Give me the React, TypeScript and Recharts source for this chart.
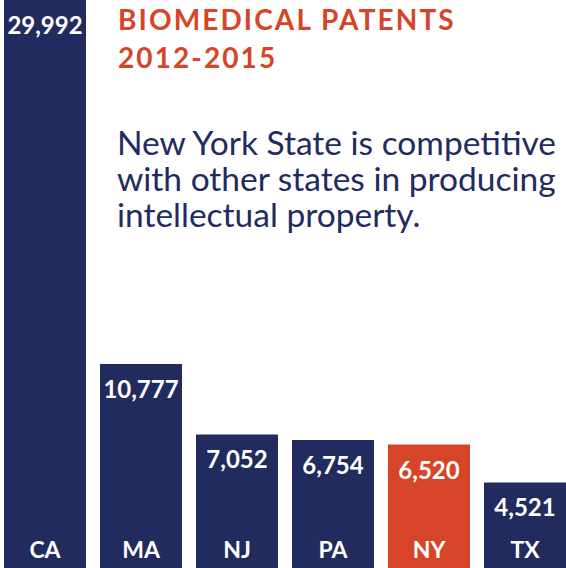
import React from 'react';
import { BarChart, Bar, XAxis, YAxis, Cell, LabelList } from 'recharts';

const states = ['CA', 'MA', 'NJ', 'PA', 'NY', 'TX'];
const patents = [29992, 10777, 7052, 6754, 6520, 4521];
const highlight = ['NY'];

const titleLines = ['BIOMEDICAL PATENTS', '2012-2015'];
const subtitleLines = [
  'New York State is competitive',
  'with other states in producing',
  'intellectual property.',
];

const NAVY = '#222B5E';
const ORANGE = '#D64527';

const data = states.map((s, i) => ({ state: s, value: patents[i] }));

const ValueLabel = (props: any) => {
  const { x, y, width, value } = props;
  return (
    <text
      x={x + width / 2}
      y={y + 34}
      textAnchor="middle"
      fill="#fff"
      fontFamily="Lato"
      fontWeight={700}
      fontSize={24}
    >
      {Number(value).toLocaleString('en-US')}
    </text>
  );
};

const StateLabel = (props: any) => {
  const { x, y, width, height, value } = props;
  return (
    <text
      x={x + width / 2}
      y={y + height - 10}
      textAnchor="middle"
      fill="#fff"
      fontFamily="Lato"
      fontWeight={700}
      fontSize={23}
    >
      {value}
    </text>
  );
};

export default function App() {
  return (
    <div
      style={{
        position: 'absolute',
        left: 0,
        top: 0,
        width: 566,
        height: 568,
        overflow: 'hidden',
        background: '#fff',
      }}
    >
      <div style={{ position: 'absolute', left: -3, top: 0 }}>
        <BarChart
          width={576}
          height={568}
          data={data}
          margin={{ top: 0, right: 0, bottom: 0, left: 0 }}
        >
          <XAxis dataKey="state" hide />
          <YAxis hide domain={[0, 29992]} />
          <Bar dataKey="value" barSize={82} isAnimationActive={false}>
            {data.map((d) => (
              <Cell key={d.state} fill={highlight.includes(d.state) ? ORANGE : NAVY} />
            ))}
            <LabelList dataKey="value" content={ValueLabel} />
            <LabelList dataKey="state" content={StateLabel} />
          </Bar>
        </BarChart>
      </div>
      <svg
        width={566}
        height={568}
        style={{ position: 'absolute', left: 0, top: 0, pointerEvents: 'none' }}
      >
        {titleLines.map((t, i) => (
          <text
            key={t}
            x={118}
            y={30 + i * 38}
            fill={ORANGE}
            fontFamily="Lato"
            fontWeight={700}
            fontSize={28}
            letterSpacing={2.1}
          >
            {t}
          </text>
        ))}
        {subtitleLines.map((t, i) => (
          <text
            key={t}
            x={117}
            y={155 + i * 36}
            fill={NAVY}
            fontFamily="Lato"
            fontWeight={400}
            fontSize={33.5}
          >
            {t}
          </text>
        ))}
      </svg>
    </div>
  );
}
